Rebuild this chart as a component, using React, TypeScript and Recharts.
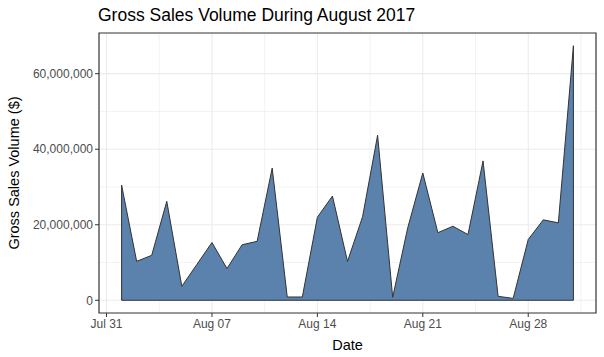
import React from "react";
import {
  ComposedChart,
  Area,
  Line,
  XAxis,
  YAxis,
  CartesianGrid,
  ReferenceArea,
  Label,
} from "recharts";

// day of month (August 2017)
const days = [
  1, 2, 3, 4, 5, 6, 7, 8, 9, 10, 11, 12, 13, 14, 15, 16,
  17, 18, 19, 20, 21, 22, 23, 24, 25, 26, 27, 28, 29, 30, 31,
];

// gross sales volume per day, in $
const volumes = [
  30500000, 10300000, 11900000, 26200000, 3700000, 9500000, 15300000,
  8400000, 14700000, 15600000, 35000000, 870000, 870000, 22000000,
  27600000, 10300000, 22100000, 43700000, 800000, 19200000, 33700000,
  17900000, 19600000, 17400000, 36900000, 1050000, 500000, 16100000,
  21300000, 20500000, 67400000,
];

const xTicks = [0, 7, 14, 21, 28];
const xTickLabels = ["Jul 31", "Aug 07", "Aug 14", "Aug 21", "Aug 28"];
const xMinor = [3.5, 10.5, 17.5, 24.5, 31.5];
const yTicks = [0, 20000000, 40000000, 60000000];
const yMinor = [10000000, 30000000, 50000000];

const X_DOMAIN: [number, number] = [-0.5, 32.5];
const Y_DOMAIN: [number, number] = [-3370000, 70770000];

const data = days.map((d, i) => ({ day: d, volume: volumes[i] }));

// closed outline: baseline -> values -> baseline
const outline = [
  { day: days[0], volume: 0 },
  ...data,
  { day: days[days.length - 1], volume: 0 },
  { day: days[0], volume: 0 },
];

const tickStyle = { fontSize: 12, fill: "#4D4D4D", fontFamily: "Arial, 'Liberation Sans', sans-serif" };
const titleFont = "Arial, 'Liberation Sans', sans-serif";

export default function App() {
  return (
    <div style={{ position: "absolute", left: 0, top: 0, width: 604, height: 357, background: "#fff" }}>
      <div
        style={{
          position: "absolute",
          left: 98,
          top: 5,
          fontFamily: titleFont,
          fontSize: 17.5,
          color: "#000",
          whiteSpace: "nowrap",
        }}
      >
        Gross Sales Volume During August 2017
      </div>
      <ComposedChart
        width={604}
        height={357}
        data={data}
        margin={{ top: 33, right: 8, bottom: 0, left: 0 }}
      >
        <CartesianGrid
          stroke="#EBEBEB"
          strokeWidth={0.6}
          horizontalValues={yMinor}
          verticalValues={xMinor}
        />
        <CartesianGrid
          stroke="#EBEBEB"
          strokeWidth={1.1}
          horizontalValues={yTicks}
          verticalValues={xTicks}
        />
        <XAxis
          dataKey="day"
          type="number"
          domain={X_DOMAIN}
          ticks={xTicks}
          tickFormatter={(v: number) => xTickLabels[xTicks.indexOf(v)]}
          allowDataOverflow
          axisLine={false}
          tickLine={{ stroke: "#333333" }}
          tickSize={4}
          tick={tickStyle}
          height={44}
        >
          <Label
            value="Date"
            position="insideBottom"
            offset={7}
            style={{ fontSize: 14.5, fill: "#000", fontFamily: titleFont }}
          />
        </XAxis>
        <YAxis
          type="number"
          domain={Y_DOMAIN}
          ticks={yTicks}
          allowDataOverflow
          tickFormatter={(v: number) => v.toLocaleString("en-US")}
          axisLine={false}
          tickLine={{ stroke: "#333333" }}
          tickSize={4}
          tick={tickStyle}
          width={99}
        >
          <Label
            value="Gross Sales Volume ($)"
            angle={-90}
            position="insideLeft"
            offset={14}
            style={{ fontSize: 14.5, fill: "#000", fontFamily: titleFont, textAnchor: "middle" }}
          />
        </YAxis>
        <Area
          dataKey="volume"
          type="linear"
          baseValue={0}
          fill="#5A82AD"
          fillOpacity={1}
          stroke="none"
          isAnimationActive={false}
        />
        <Line
          data={outline}
          dataKey="volume"
          type="linear"
          stroke="#333333"
          strokeWidth={1}
          dot={false}
          activeDot={false}
          isAnimationActive={false}
        />
        <ReferenceArea
          x1={X_DOMAIN[0]}
          x2={X_DOMAIN[1]}
          y1={Y_DOMAIN[0]}
          y2={Y_DOMAIN[1]}
          fill="none"
          stroke="#333333"
          strokeWidth={1.2}
          ifOverflow="visible"
        />
      </ComposedChart>
    </div>
  );
}
